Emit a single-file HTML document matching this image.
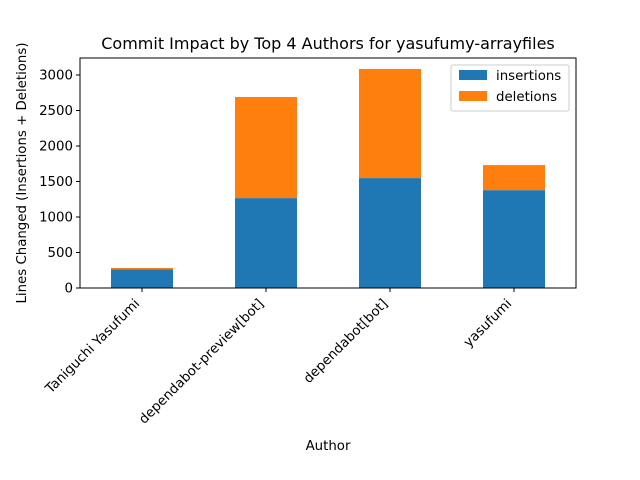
<!DOCTYPE html>
<html><head><meta charset="utf-8"><style>
body{margin:0;background:#fff}
svg{display:block;font-family:"DejaVu Sans","Liberation Sans",sans-serif}
</style></head><body>
<svg id="chart" width="640" height="480" viewBox="0 0 640 480">
<rect width="640" height="480" fill="#fff"/>
<text x="328" y="49" text-anchor="middle" font-size="16">Commit Impact by Top 4 Authors for yasufumy-arrayfiles</text>
<g id="bars"></g>
<g id="yticks"></g>
<g id="xticks"></g>
<rect x="80" y="58" width="496" height="230" fill="none" stroke="#000" stroke-width="1"/>
<text transform="translate(26,173) rotate(-90)" text-anchor="middle" font-size="13.33">Lines Changed (Insertions + Deletions)</text>
<text x="328" y="450" text-anchor="middle" font-size="13.33">Author</text>
<g>
<rect x="451" y="65" width="118" height="46" rx="2" fill="#fff" stroke="#ccc"/>
<rect x="459" y="70" width="28" height="10" fill="#1f77b4"/>
<text x="496" y="80" font-size="13.33">insertions</text>
<rect x="459" y="91" width="28" height="10" fill="#ff7f0e"/>
<text x="496" y="101" font-size="13.33">deletions</text>
</g>
</svg>
<script>
const categories = ["Taniguchi Yasufumi","dependabot-preview[bot]","dependabot[bot]","yasufumi"];
const insertions = [264, 1266, 1548, 1378];
const deletions = [18, 1424, 1537, 353];
const yTicks = [0, 500, 1000, 1500, 2000, 2500, 3000];
const NS = "http://www.w3.org/2000/svg";
const plotLeft=80, plotRight=576, plotTop=58, plotBottom=288;
const totals = categories.map((c,i)=>insertions[i]+deletions[i]);
const yMax = Math.max(...totals)*1.05;
const y = v => plotBottom - v/yMax*(plotBottom-plotTop);
const band = (plotRight-plotLeft)/categories.length;
const xc = i => plotLeft + band*(i+0.5);
const bw = band*0.5;
function mk(tag, attrs){const e=document.createElementNS(NS,tag);for(const k in attrs)e.setAttribute(k,attrs[k]);return e;}
const bars=document.getElementById('bars');
categories.forEach((c,i)=>{
  const b1=mk('rect',{x:xc(i)-bw/2,y:y(insertions[i]),width:bw,height:y(0)-y(insertions[i]),fill:'#1f77b4'});
  
  
  bars.appendChild(b1);
  const t=insertions[i]+deletions[i];
  const b2=mk('rect',{x:xc(i)-bw/2,y:y(t),width:bw,height:y(insertions[i])-y(t),fill:'#ff7f0e'});
  
  
  bars.appendChild(b2);
});
const yg=document.getElementById('yticks');
yTicks.forEach(v=>{
  const l=mk('line',{x1:plotLeft-4,x2:plotLeft,y1:y(v),y2:y(v),stroke:'#000'});
  
  
  yg.appendChild(l);
  const t=mk('text',{x:plotLeft-7,y:y(v)+4.5,'text-anchor':'end','font-size':'13.33'});
  
  
  t.textContent=v; yg.appendChild(t);
});
const xg=document.getElementById('xticks');
categories.forEach((c,i)=>{
  const l=mk('line',{x1:xc(i),x2:xc(i),y1:plotBottom,y2:plotBottom+4,stroke:'#000'});
  
  
  xg.appendChild(l);
  const t=mk('text',{transform:`translate(${xc(i)-8},${plotBottom+10}) rotate(-45)`,x:0,y:9,'text-anchor':'end','font-size':'13.33'});
  
  
  t.textContent=c; xg.appendChild(t);
});
</script>
</body></html>
